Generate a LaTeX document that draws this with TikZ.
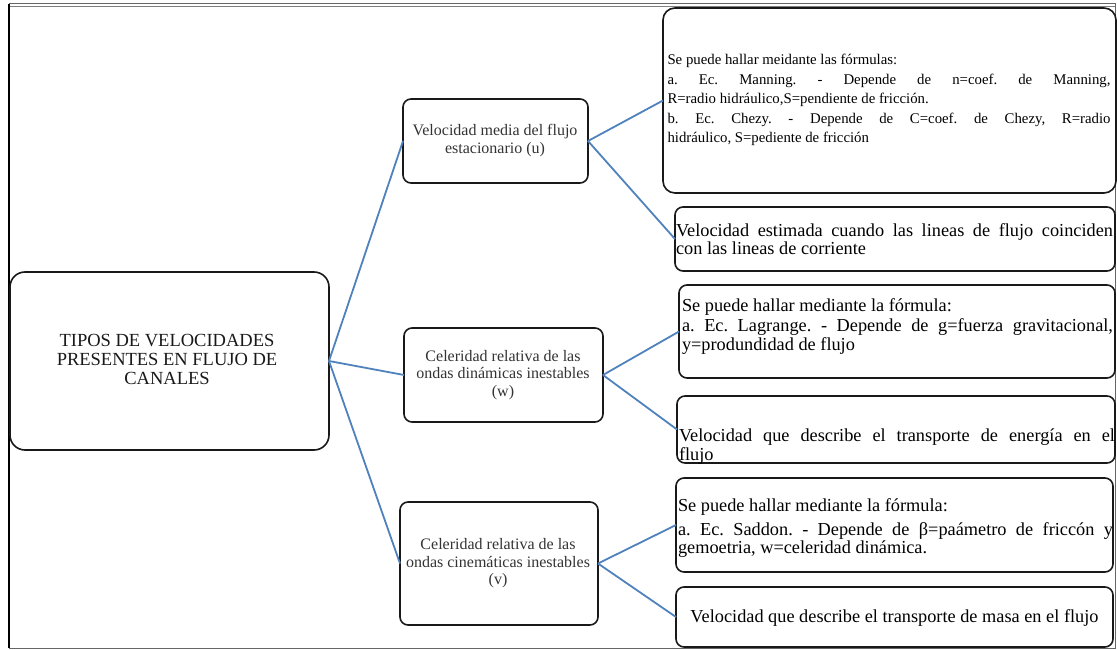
\documentclass[tikz,border=0pt]{standalone}
\usepackage{fontspec}
\setmainfont{Liberation Serif}
\frenchspacing
\definecolor{conn}{RGB}{79,129,189}
\begin{document}
\begin{tikzpicture}[x=1pt,y=-1pt,
  shp/.style={draw=black!90, line width=1.6pt, inner sep=0pt, outer sep=0pt, rounded corners=#1},
  shp/.default=8pt,
  roottext/.style={align=center, font=\rmfamily\fontsize{18.5}{19}\selectfont, text=black!90, inner sep=0pt},
  midtext/.style={align=center, font=\rmfamily\fontsize{16}{17.5}\selectfont, text=black!80, inner sep=0pt},
  rtext/.style={align=justify, text width=#1, font=\rmfamily\fontsize{18.3}{18.5}\selectfont, text=black, inner sep=0pt},
  conline/.style={draw=conn, line width=1.8pt}
]
\useasboundingbox (0,0) rectangle (1117,650);
% frame
\draw[black!60, line width=1pt] (9,4) rectangle (1115,648);
\draw[black!50, line width=1pt] (9,6.5) -- (1115,6.5);
\draw[black, line width=2.5pt] (9,4) -- (9,648);

% boxes
\node[shp=15pt, minimum width=319pt, minimum height=178pt] (root) at (169.5,361) {};
\node[shp, minimum width=185pt, minimum height=84pt] (b1) at (495.5,141) {};
\node[shp, minimum width=199pt, minimum height=94pt] (b2) at (503.5,375) {};
\node[shp, minimum width=198pt, minimum height=123pt] (b3) at (499,563.5) {};
\node[shp=12pt, minimum width=453pt, minimum height=185pt] (r1) at (889.5,100.5) {};
\node[shp, minimum width=440pt, minimum height=64pt] (r2) at (895,239) {};
\node[shp, minimum width=436pt, minimum height=93pt] (r3) at (897,331.5) {};
\node[shp, minimum width=438pt, minimum height=67pt] (r4) at (896,429.5) {};
\node[shp, minimum width=437pt, minimum height=94pt] (r5) at (894.5,525) {};
\node[shp, minimum width=437pt, minimum height=60pt] (r6) at (894.5,617) {};

% texts
\node[roottext] (roott) at (167,359) {TIPOS DE VELOCIDADES\\PRESENTES EN FLUJO DE\\CANALES};
\node[midtext] (b1t) at (495,140.5) {Velocidad media del flujo\\estacionario (u)};
\node[midtext] (b2t) at (503,375) {Celeridad relativa de las\\ondas dinámicas inestables\\(w)};
\node[midtext] (b3t) at (498,563.5) {Celeridad relativa de las\\ondas cinemáticas inestables\\(v)};

\node[rtext=443pt, font=\rmfamily\fontsize{14.8}{18.5}\selectfont] (r1t) at (889,99.5) {Se puede hallar meidante las fórmulas:\par\vspace{2pt}
a. Ec. Manning. - Depende de n=coef. de Manning,\linebreak R=radio hidráulico,S=pendiente de fricción.\par\vspace{2pt}
b. Ec. Chezy. - Depende de C=coef. de Chezy, R=radio\linebreak hidráulico, S=pediente de fricción};
\node[rtext=437pt] (r2t) at (894.5,239) {Velocidad estimada cuando las lineas de flujo coinciden\linebreak con las lineas de corriente};
\node[rtext=431pt] (r3t) at (897.5,326.5) {Se puede hallar mediante la fórmula:\par\vspace{2pt}
a. Ec. Lagrange. - Depende de g=fuerza gravitacional,\linebreak y=produndidad de flujo};
\node[rtext=436pt] (r4t) at (897,446.5) {Velocidad que describe el transporte de energía en el\linebreak flujo};
\node[rtext=435pt] (r5t) at (895.5,528.5) {Se puede hallar mediante la fórmula:\par\vspace{5pt}
a. Ec. Saddon. - Depende de β=paámetro de friccón y\linebreak gemoetria, w=celeridad dinámica.};
\node[align=center, font=\rmfamily\fontsize{18.3}{18.5}\selectfont, inner sep=0pt] (r6t) at (894.5,618) {Velocidad que describe el transporte de masa en el flujo};

% connectors
\draw[conline] (root.east) -- (b1.west);
\draw[conline] (root.east) -- (b2.west);
\draw[conline] (root.east) -- (b3.west);
\draw[conline] (b1.east) -- (r1.west);
\draw[conline] (b1.east) -- (r2.west);
\draw[conline] (b2.east) -- (r3.west);
\draw[conline] (b2.east) -- (r4.west);
\draw[conline] (b3.east) -- (r5.west);
\draw[conline] (b3.east) -- (r6.west);
\end{tikzpicture}
\end{document}
